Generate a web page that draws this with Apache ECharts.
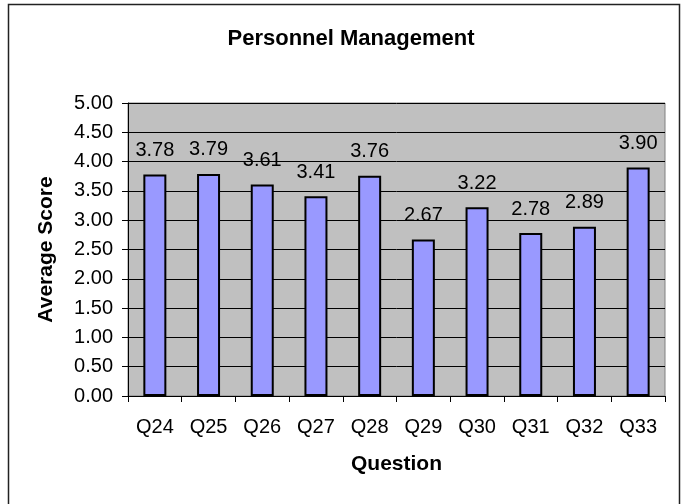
<!DOCTYPE html>
<html>
<head>
<meta charset="utf-8">
<script src="https://cdn.jsdelivr.net/npm/echarts@6/dist/echarts.min.js"></script>
<style>
  html, body { margin: 0; padding: 0; background: #fff; }
  #chart { width: 688px; height: 504px; }
</style>
</head>
<body>
<div id="chart"></div>
<script>
// data
const questions = ["Q24", "Q25", "Q26", "Q27", "Q28", "Q29", "Q30", "Q31", "Q32", "Q33"];
const scores = [3.78, 3.79, 3.61, 3.41, 3.76, 2.67, 3.22, 2.78, 2.89, 3.90];

const chart = echarts.init(document.getElementById("chart"));
const font = "Arial, 'Liberation Sans', sans-serif";

chart.setOption({
  animation: false,
  title: {
    text: "Personnel Management",
    left: 346,
    top: 23,
    textAlign: "center",
    textStyle: { fontFamily: font, fontSize: 22, fontWeight: "bold", color: "#000" }
  },
  // outer chart frame
  graphic: [
    {
      type: "rect",
      shape: { x: 8.5, y: 4.5, width: 671, height: 510 },
      style: { fill: null, stroke: "#222", lineWidth: 1.5 },
      z: 100
    }
  ],
  grid: {
    left: 128,
    top: 103,
    right: 23,
    bottom: 108,
    show: true,
    backgroundColor: "#C0C0C0",
    borderColor: "#808080",
    borderWidth: 1
  },
  xAxis: {
    type: "category",
    data: questions,
    name: "Question",
    nameLocation: "middle",
    nameGap: 68,
    nameTextStyle: { fontFamily: font, fontSize: 21, fontWeight: "bold", color: "#000", verticalAlign: "middle" },
    axisLine: { lineStyle: { color: "#000", width: 1 } },
    axisTick: { show: true, alignWithLabel: false, length: 6, lineStyle: { color: "#000" } },
    axisLabel: { fontFamily: font, fontSize: 20, color: "#000", margin: 21 }
  },
  yAxis: {
    type: "value",
    min: 0,
    max: 5,
    interval: 0.5,
    name: "Average Score",
    nameLocation: "middle",
    nameGap: 82,
    nameTextStyle: { fontFamily: font, fontSize: 21, fontWeight: "bold", color: "#000", verticalAlign: "middle" },
    axisLine: { show: true, lineStyle: { color: "#000", width: 1 } },
    axisTick: { show: true, length: 6, lineStyle: { color: "#000" } },
    axisLabel: {
      fontFamily: font, fontSize: 20, color: "#000", margin: 15,
      formatter: v => v.toFixed(2)
    },
    splitLine: { show: true, lineStyle: { color: "#000", width: 1 } }
  },
  series: [
    {
      type: "bar",
      data: scores,
      barWidth: 23,
      itemStyle: { color: "#9999FF", borderColor: "#000", borderWidth: 2 },
      label: {
        show: true,
        position: "top",
        distance: 14,
        fontFamily: font,
        fontSize: 20,
        color: "#000",
        formatter: p => p.value.toFixed(2)
      }
    }
  ]
});
</script>
</body>
</html>
